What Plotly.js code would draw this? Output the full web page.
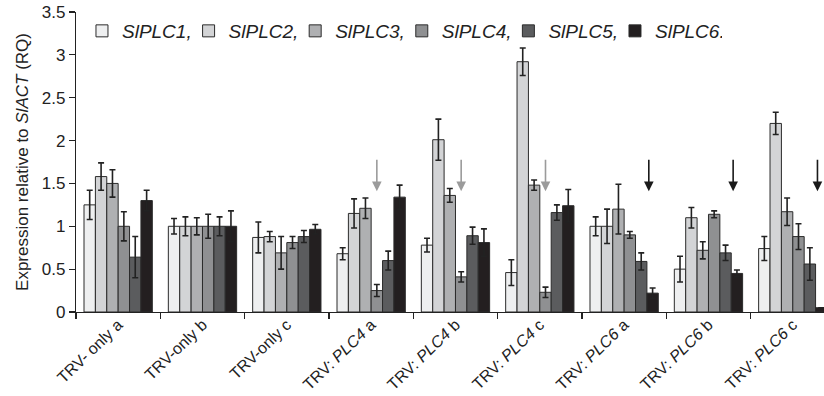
<!DOCTYPE html>
<html>
<head>
<meta charset="utf-8">
<script src="https://cdn.plot.ly/plotly-3.0.1.min.js"></script>
<style>html,body{margin:0;padding:0;background:#fff;}#chart{width:824px;height:396px;}</style>
</head>
<body>
<div id="chart"></div>
<script>
const categories = ['TRV- only a','TRV-only b','TRV-only c','TRV: <i>PLC4</i> a','TRV: <i>PLC4</i> b','TRV: <i>PLC4</i> c','TRV: <i>PLC6</i> a','TRV: <i>PLC6</i> b','TRV: <i>PLC6</i> c'];
const geneNames = ['SlPLC1,','SlPLC2,','SlPLC3,','SlPLC4,','SlPLC5,','SlPLC6.'];
const plc1 = [1.25,1.00,0.87,0.68,0.78,0.46,1.00,0.50,0.74];
const plc1Err = [0.17,0.09,0.18,0.07,0.08,0.15,0.11,0.15,0.14];
const plc2 = [1.58,1.00,0.88,1.15,2.01,2.92,1.00,1.10,2.20];
const plc2Err = [0.16,0.11,0.06,0.17,0.24,0.16,0.20,0.12,0.13];
const plc3 = [1.50,1.00,0.69,1.21,1.36,1.48,1.20,0.72,1.17];
const plc3Err = [0.16,0.10,0.19,0.12,0.08,0.06,0.29,0.10,0.16];
const plc4 = [1.00,1.00,0.81,0.25,0.41,0.23,0.90,1.14,0.88];
const plc4Err = [0.17,0.14,0.07,0.07,0.06,0.06,0.04,0.04,0.15];
const plc5 = [0.64,1.00,0.88,0.60,0.89,1.16,0.59,0.69,0.56];
const plc5Err = [0.24,0.11,0.07,0.11,0.10,0.09,0.10,0.09,0.19];
const plc6 = [1.30,1.00,0.965,1.34,0.81,1.24,0.22,0.45,0.05];
const plc6Err = [0.12,0.18,0.055,0.14,0.16,0.19,0.06,0.04,null];
// arrows: group index and which gene they point at (silenced gene)
const arrowGroups = [3,4,5,6,7,8];
const arrowGene = [3,3,3,5,5,5];
const arrowTip = 1.41;

const values = [plc1,plc2,plc3,plc4,plc5,plc6];
const errs = [plc1Err,plc2Err,plc3Err,plc4Err,plc5Err,plc6Err];
const colors = ['#eeeff0','#d3d4d6','#afb0b2','#8f9092','#5b5c5e','#231f20'];
const FONT = 'Liberation Sans, Arial, Helvetica, sans-serif';

const traces = values.map((v,i)=>({
  type:'bar',
  x: categories,
  y: v,
  name: '<i>'+geneNames[i]+'</i>',
  marker:{color:colors[i], line:{color:'#2b2b2b', width:1}},
  error_y:{type:'data', array:errs[i], visible:true, color:'#222', thickness:1.6, width:3},
  hoverinfo:'skip'
}));

const bargap = 0.19;
const bw = (1-bargap)/6;
const annotations = arrowGroups.map((g,k)=>{
  const off = (arrowGene[k]-2.5)*bw - (arrowGene[k]===5 ? 0.045 : 0);
  const grey = arrowGene[k]===3;
  return {
    x: g+off, y: arrowTip, xref:'x', yref:'y',
    showarrow:true, ax:0, ay:-33, axref:'pixel', ayref:'pixel',
    arrowhead:2, arrowsize:1.2, arrowwidth:1.6, standoff:0,
    arrowcolor: grey ? '#9b9b9b' : '#1a1a1a', text:''
  };
});

const layout = {
  width:824, height:396,
  margin:{l:76, r:0, t:12, b:84},
  paper_bgcolor:'#fff', plot_bgcolor:'#fff',
  font:{family:FONT, color:'#222', size:17},
  barmode:'group', bargap:bargap, bargroupgap:0,
  showlegend:true,
  legend:{orientation:'h', x:0.008, xanchor:'left', y:1.0, yanchor:'top',
          font:{family:FONT, size:19, color:'#222'}, bgcolor:'rgba(0,0,0,0)',
          entrywidth:61.6, entrywidthmode:'pixels', traceorder:'normal'},
  xaxis:{type:'category', categoryorder:'array', categoryarray:categories,
         range:[-0.5, 8.37], tickson:'boundaries', ticks:'outside', ticklen:6,
         tickcolor:'#222', tickwidth:1.2, showline:true, linecolor:'#222', linewidth:1.2,
         tickangle:-44, tickfont:{family:FONT, size:16, color:'#222'},
         ticklabelstandoff:-4,
         showgrid:false, zeroline:false, fixedrange:true},
  yaxis:{range:[0,3.5], dtick:0.5, ticks:'outside', ticklen:6, tickcolor:'#222', tickwidth:1.2,
         showline:true, linecolor:'#222', linewidth:1.2, showgrid:false, zeroline:false,
         tickfont:{family:FONT, size:17, color:'#222'},
         title:{text:'Expression relative to <i>SlACT</i> (RQ)', font:{family:FONT, size:17, color:'#222'}, standoff:8}},
  annotations: annotations
};

Plotly.newPlot('chart', traces, layout, {displayModeBar:false, staticPlot:true});
</script>
</body>
</html>
